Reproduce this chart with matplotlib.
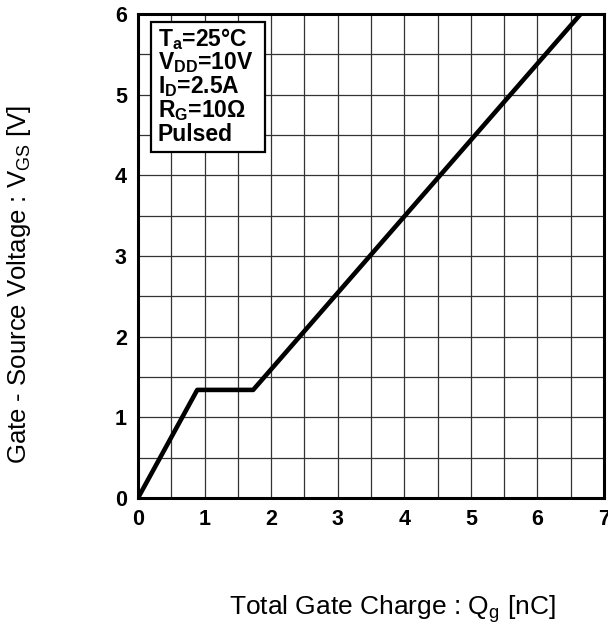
import matplotlib
matplotlib.use("Agg")
import matplotlib.pyplot as plt
import numpy as np
from matplotlib.patches import Rectangle

plt.rcParams['font.family'] = ['Liberation Sans', 'DejaVu Sans']
plt.rcParams['mathtext.fontset'] = 'custom'
plt.rcParams['mathtext.rm'] = 'Liberation Sans'
plt.rcParams['mathtext.default'] = 'regular'

# Gate charge curve
qg = [0.0, 0.89, 1.73, 6.65]
vgs = [0.0, 1.34, 1.34, 6.0]

xticks = [0, 1, 2, 3, 4, 5, 6, 7]
yticks = [0, 1, 2, 3, 4, 5, 6]

conditions = ["T$_a$=25°C", "V$_{DD}$=10V", "I$_D$=2.5A", "R$_G$=10Ω", "Pulsed"]

fig = plt.figure(figsize=(6.08, 6.27), dpi=100)
ax = fig.add_axes([138 / 608, 1 - 498 / 627, 466 / 608, 484 / 627])

ax.set_xlim(0, 7)
ax.set_ylim(0, 6)
ax.set_xticks(xticks)
ax.set_yticks(yticks)
ax.set_xticks(np.arange(0, 7.01, 0.5), minor=True)
ax.set_yticks(np.arange(0, 6.01, 0.5), minor=True)
ax.grid(True, which='both', color='#333333', linewidth=0.9)
ax.set_axisbelow(True)
ax.tick_params(which='both', length=0, labelsize=15.5, pad=8)
for lab in ax.get_xticklabels() + ax.get_yticklabels():
    lab.set_fontweight('bold')
for sp in ax.spines.values():
    sp.set_linewidth(2.2)

ax.plot(qg, vgs, color='black', linewidth=3.3, solid_capstyle='butt', zorder=5)

# conditions box
ax.add_patch(Rectangle((0.195, 4.29), 1.71, 1.61, facecolor='white',
                       edgecolor='black', linewidth=1.6, zorder=6))
for i, s in enumerate(conditions):
    ax.text(0.3, 5.606 - i * 0.295, s, fontsize=16.5, fontweight='bold',
            va='baseline', ha='left', zorder=7)

fig.text(392 / 608, 1 - 615 / 627, "Total Gate Charge : Q$_g$ [nC]",
         fontsize=19, ha='center', va='baseline')
fig.text(19 / 608, 1 - 284 / 627, "Gate - Source Voltage : V$_{GS}$ [V]",
         fontsize=18.5, ha='center', va='center', rotation=90)

fig.savefig("out.png", dpi=100)
